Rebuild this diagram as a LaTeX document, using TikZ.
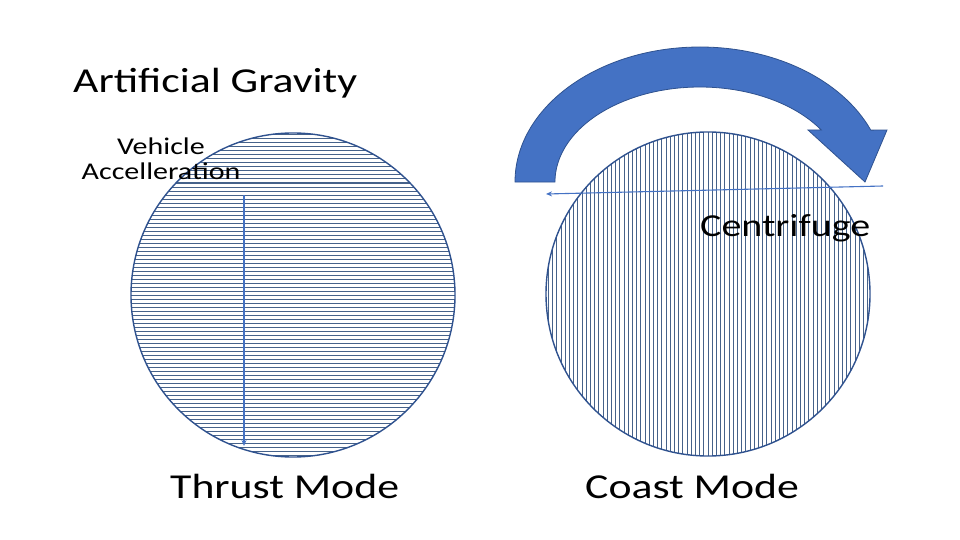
\documentclass[tikz,border=0pt]{standalone}
\usepackage{fontspec}
\setmainfont{Carlito}[FakeStretch=1.25]
\usetikzlibrary{arrows.meta, positioning}
\definecolor{slideblue}{HTML}{4472C4}
\definecolor{edgeblue}{HTML}{2F528F}
\definecolor{hatchgrey}{HTML}{46628A}
\tikzset{
  ring/.style={circle, draw=edgeblue, line width=1.4pt, minimum size=324pt, inner sep=0},
  hatchline/.style={draw=hatchgrey, line width=1pt},
  hlines/.style={path picture={
      \foreach \k in {-41,...,41}
        \draw[hatchline] ([yshift=\k*4pt]path picture bounding box.west)
                      -- ([yshift=\k*4pt]path picture bounding box.east);}},
  vlines/.style={path picture={
      \foreach \k in {-39,...,39}
        \draw[hatchline] ([xshift=\k*4.2pt]path picture bounding box.north)
                      -- ([xshift=\k*4.2pt]path picture bounding box.south);}},
  slidetext/.style={inner sep=0, font=\fontsize{35}{42}\selectfont},
  smalltext/.style={inner sep=0, align=center, font=\fontsize{24}{25.5}\selectfont},
  thinarrow/.style={-{Stealth[length=6pt,width=5pt]}, draw=slideblue, line width=1.1pt},
  spin/.style={fill=slideblue, draw=edgeblue, line width=0.8pt, line join=miter},
}

\begin{document}
\begin{tikzpicture}[x=1pt, y=-1pt]
  \useasboundingbox (0,0) rectangle (960,540);

  % the two modes
  \node[ring, hlines] (thrust) at (293,295) {};
  \node[ring, vlines] (coast) at (708,294) {};

  % headings and labels
  \node[slidetext, anchor=base west] (title) at (73,93) {Artificial Gravity};
  \node[smalltext] (accel) at (161,159) {Vehicle\\Accelleration};
  \node[slidetext, font=\fontsize{32}{38}\selectfont, anchor=base west] (centri) at (700,236) {Centrifuge};
  \node[slidetext, anchor=base west] (thrustlbl) at (170,498) {Thrust Mode};
  \node[slidetext, anchor=base west] (coastlbl) at (585,498) {Coast Mode};

  % curved rotation arrow above the centrifuge
  \path[spin] (515,182) arc[start angle=180, end angle=337.4, x radius=185, y radius=135]
        -- (887,130) -- (865,182) -- (808,130) -- (821.3,130)
        arc[start angle=326.8, end angle=180, x radius=145, y radius=95] -- cycle;

  % acceleration directions
  \coordinate (accstart) at (244,195);
  \coordinate (accend) at (244,446);
  \draw[thinarrow] (accstart) -- (accend);
  \coordinate (cfstart) at (883,186);
  \coordinate (cfend) at (546,194);
  \draw[thinarrow] (cfstart) -- (cfend);
\end{tikzpicture}
\end{document}
